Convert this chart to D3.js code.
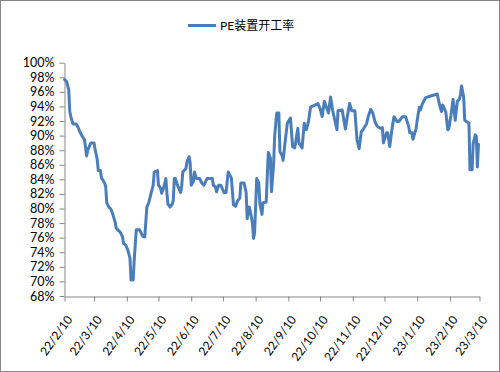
<!DOCTYPE html>
<html>
<head>
<meta charset="utf-8">
<script src="https://cdn.jsdelivr.net/npm/d3@7/dist/d3.min.js"></script>
<style>
  html, body { margin: 0; padding: 0; background: #fff; }
  svg { display: block; }
  text { font-family: Lato, "Noto Sans CJK SC", sans-serif; fill: #000; }
</style>
</head>
<body>
<div id="chart"></div>
<script>
const seriesName = "PE装置开工率";

const dates = [
  "2022-02-10","2022-02-12","2022-02-14","2022-02-15","2022-02-16","2022-02-18","2022-02-21","2022-02-23","2022-02-24","2022-02-26",
  "2022-03-01","2022-03-03","2022-03-04","2022-03-07","2022-03-10","2022-03-11","2022-03-13","2022-03-14","2022-03-16","2022-03-17","2022-03-20","2022-03-21","2022-03-22","2022-03-24","2022-03-26","2022-03-28","2022-03-30","2022-03-31",
  "2022-04-02","2022-04-04","2022-04-06","2022-04-07","2022-04-09","2022-04-11","2022-04-13","2022-04-14","2022-04-16","2022-04-17","2022-04-19","2022-04-22","2022-04-25","2022-04-27","2022-04-29",
  "2022-05-01","2022-05-03","2022-05-05","2022-05-06","2022-05-09","2022-05-10","2022-05-12","2022-05-13","2022-05-15","2022-05-17","2022-05-18","2022-05-19","2022-05-21","2022-05-23","2022-05-24","2022-05-25","2022-05-26","2022-05-28","2022-05-31",
  "2022-06-01","2022-06-02","2022-06-05","2022-06-06","2022-06-08","2022-06-09","2022-06-10","2022-06-12","2022-06-13","2022-06-15","2022-06-18","2022-06-20","2022-06-22","2022-06-25","2022-06-30",
  "2022-07-01","2022-07-03","2022-07-04","2022-07-06","2022-07-08","2022-07-11","2022-07-13","2022-07-15","2022-07-18","2022-07-20","2022-07-22","2022-07-24","2022-07-26","2022-07-27","2022-07-30",
  "2022-08-01","2022-08-02","2022-08-04","2022-08-05","2022-08-07","2022-08-08","2022-08-09","2022-08-11","2022-08-13","2022-08-14","2022-08-16","2022-08-17","2022-08-20","2022-08-22","2022-08-24","2022-08-25","2022-08-27","2022-08-28","2022-08-30",
  "2022-09-01","2022-09-02","2022-09-04","2022-09-05","2022-09-07","2022-09-09","2022-09-12","2022-09-14","2022-09-16","2022-09-19","2022-09-20","2022-09-23","2022-09-25","2022-09-27","2022-09-29",
  "2022-10-01","2022-10-04","2022-10-08","2022-10-10","2022-10-12","2022-10-14","2022-10-16","2022-10-18","2022-10-20","2022-10-22","2022-10-24","2022-10-26","2022-10-27","2022-10-31",
  "2022-11-01","2022-11-03","2022-11-05","2022-11-07","2022-11-09","2022-11-12","2022-11-14","2022-11-16","2022-11-18","2022-11-20","2022-11-23","2022-11-25","2022-11-27","2022-11-29",
  "2022-12-01","2022-12-03","2022-12-06","2022-12-08","2022-12-09","2022-12-12","2022-12-13","2022-12-15","2022-12-17","2022-12-19","2022-12-22","2022-12-24","2022-12-27","2022-12-30",
  "2023-01-02","2023-01-03","2023-01-05","2023-01-06","2023-01-09","2023-01-10","2023-01-12","2023-01-13","2023-01-15","2023-01-18","2023-01-22","2023-01-29","2023-01-31",
  "2023-02-02","2023-02-03","2023-02-05","2023-02-06","2023-02-08","2023-02-09","2023-02-11","2023-02-13","2023-02-15","2023-02-17","2023-02-19","2023-02-20","2023-02-21","2023-02-23","2023-02-24","2023-02-26","2023-02-28",
  "2023-03-01","2023-03-03","2023-03-04","2023-03-06","2023-03-07","2023-03-08","2023-03-09"
];

const values = [
  97.7,97.4,96.3,93.3,92.6,91.6,91.6,91.1,90.7,90.1,
  89.4,87.2,88.0,89.0,89.0,88.1,86.7,85.2,85.2,84.2,83.5,83.0,80.8,80.2,79.9,79.1,78.1,77.3,
  77.0,76.7,76.1,75.2,75.0,74.3,73.2,70.2,70.2,72.9,77.1,77.1,76.2,76.1,80.2,
  80.9,82.1,83.2,85.0,85.2,83.2,82.8,82.1,82.9,84.1,82.1,80.6,80.2,80.6,81.1,84.1,84.1,83.2,82.2,
  83.1,85.0,85.5,86.4,87.1,86.2,83.2,83.7,85.0,84.1,84.1,83.5,83.2,84.1,84.1,
  83.2,83.0,82.3,83.2,83.2,82.2,82.2,85.0,84.2,80.5,80.3,81.1,81.4,83.5,83.5,
  82.2,78.6,80.2,79.6,78.0,75.9,76.6,84.1,83.5,80.7,79.2,80.8,80.9,87.7,86.9,82.3,86.0,89.9,93.1,
  93.1,87.8,87.3,86.6,89.2,91.7,92.4,88.5,88.3,91.0,89.0,88.3,91.7,90.8,91.9,
  93.9,94.1,94.4,93.7,92.6,94.7,93.9,93.1,95.3,93.4,92.1,90.8,93.4,93.5,
  92.6,90.9,92.8,94.4,93.4,93.4,89.4,88.2,90.5,90.9,91.6,92.8,93.6,93.1,
  91.9,91.3,91.0,91.1,89.0,90.4,90.4,88.5,90.8,92.6,91.9,92.0,92.6,92.6,
  91.2,90.4,90.4,89.5,91.0,92.1,93.9,93.5,94.4,95.2,95.4,95.7,94.3,
  93.3,94.2,93.6,93.3,90.8,91.0,92.8,95.0,92.1,94.7,95.0,95.6,96.8,95.3,92.1,91.9,91.7,
  85.3,85.3,88.9,90.1,89.9,85.7,88.8
];

const xTickDates = ["2022-02-10","2022-03-10","2022-04-10","2022-05-10","2022-06-10","2022-07-10","2022-08-10","2022-09-10","2022-10-10","2022-11-10","2022-12-10","2023-01-10","2023-02-10","2023-03-10"];
const xTickLabels = ["22/2/10","22/3/10","22/4/10","22/5/10","22/6/10","22/7/10","22/8/10","22/9/10","22/10/10","22/11/10","22/12/10","23/1/10","23/2/10","23/3/10"];
const yTicks = [68,70,72,74,76,78,80,82,84,86,88,90,92,94,96,98,100];

const W = 500, H = 372;
const parse = d3.timeParse("%Y-%m-%d");
const data = dates.map((d, i) => ({ date: parse(d), value: values[i] }));

const svg = d3.select("#chart").append("svg").attr("width", W).attr("height", H);

svg.append("rect").attr("x", 0.5).attr("y", 0.5).attr("width", W - 1).attr("height", H - 1)
  .attr("fill", "#fff").attr("stroke", "#868686");

const x = d3.scaleTime()
  .domain([parse(xTickDates[0]), parse(xTickDates[xTickDates.length - 1])])
  .range([64.5, 479.5]);
const y = d3.scaleLinear().domain([68, 100]).range([296, 62.7]);

const axisColor = "#868686";

// Y axis
const yAxis = svg.append("g").attr("transform", "translate(64.5,0)")
  .call(d3.axisLeft(y).tickValues(yTicks).tickSize(5).tickSizeOuter(0).tickPadding(5)
    .tickFormat(d => d + "%"));
yAxis.select(".domain").attr("stroke", axisColor);
yAxis.selectAll(".tick line").attr("stroke", axisColor);
yAxis.selectAll(".tick text").style("font-size", "12.5px").attr("fill", "#000");

// X axis
const xAxis = svg.append("g").attr("transform", "translate(0,296.5)")
  .call(d3.axisBottom(x).tickValues(xTickDates.map(parse)).tickSize(5).tickSizeOuter(0)
    .tickFormat((d, i) => xTickLabels[i]));
xAxis.select(".domain").attr("stroke", axisColor);
xAxis.selectAll(".tick line").attr("stroke", axisColor);
xAxis.selectAll(".tick text")
  .attr("text-anchor", "end")
  .attr("dy", null)
  .attr("y", null)
  .attr("transform", "translate(8,23) rotate(-54)")
  .style("font-size", "12px").attr("fill", "#000");

// Line
const line = d3.line().x(d => x(d.date)).y(d => y(d.value)).curve(d3.curveLinear);
svg.append("path").datum(data)
  .attr("fill", "none").attr("stroke", "#4A7EBB").attr("stroke-width", 3)
  .attr("stroke-linejoin", "round").attr("stroke-linecap", "round")
  .attr("d", line);

// Legend
const lg = svg.append("g");
lg.append("line").attr("x1", 188).attr("x2", 216).attr("y1", 25.5).attr("y2", 25.5)
  .attr("stroke", "#4A7EBB").attr("stroke-width", 3);
lg.append("text").attr("x", 220).attr("y", 30).style("font-size", "12px").text(seriesName);
</script>
</body>
</html>
